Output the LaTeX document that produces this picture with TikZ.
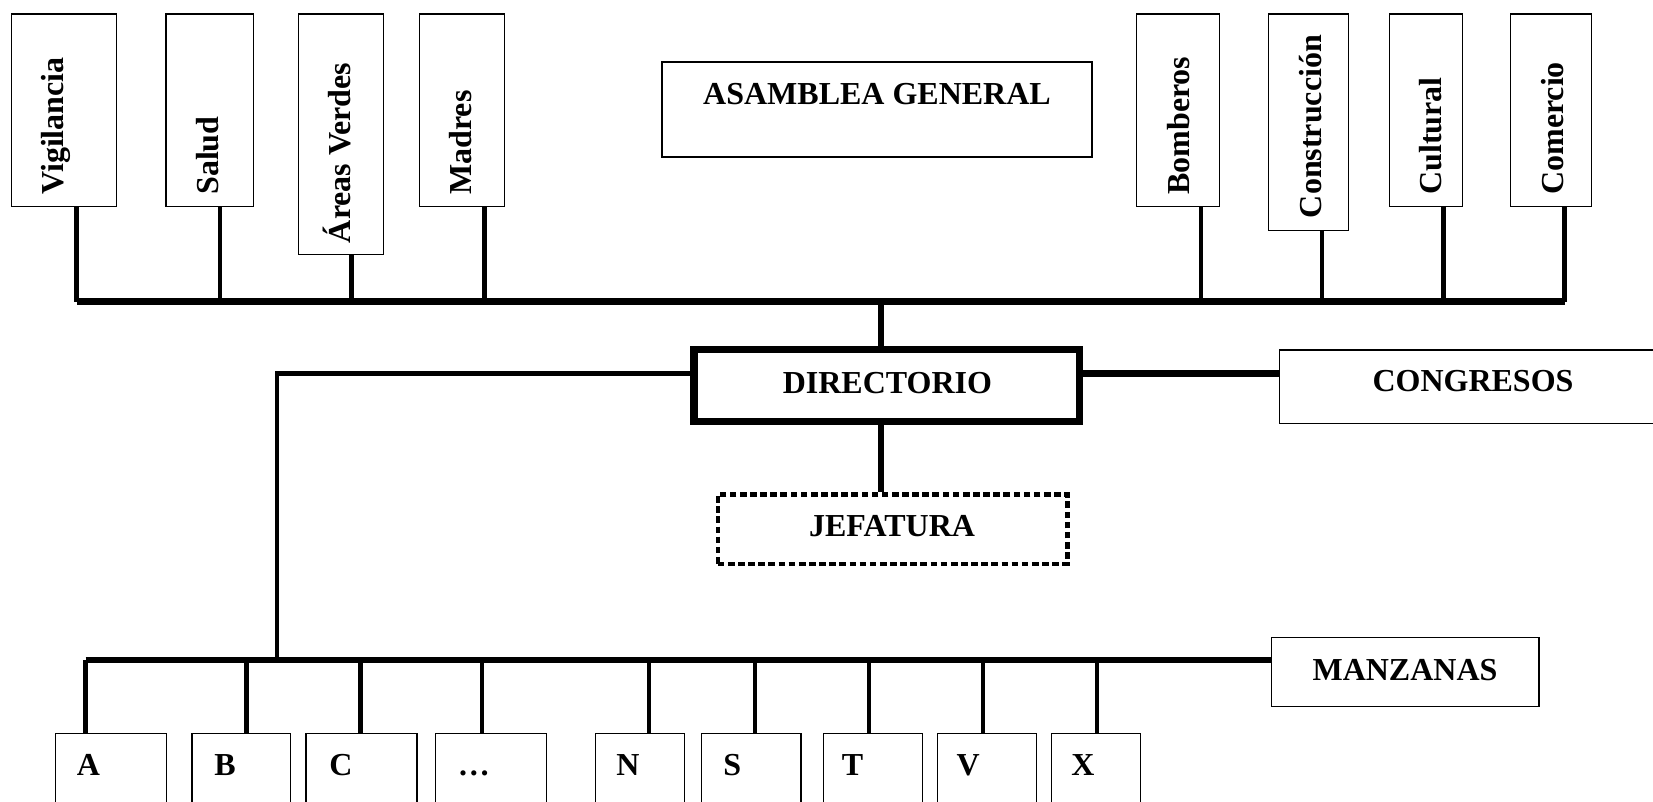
\documentclass[tikz,border=0pt]{standalone}
\usepackage{fontspec}
\setmainfont{Liberation Serif}
\usetikzlibrary{fit}
\begin{document}
\begin{tikzpicture}[x=0.75pt,y=-0.75pt,
  box/.style={draw, line width=0.8pt, inner sep=0pt, fill=none},
  lab/.style={inner sep=0pt, font=\fontsize{24}{28}\selectfont\bfseries},
  vlab/.style={lab, rotate=90, anchor=base west},
  hlab/.style={lab, anchor=base},
  llab/.style={lab, anchor=base west},
  stub/.style={line width=3.4pt},
  bus/.style={line width=5.4pt},
  lbus/.style={line width=4.3pt},
  thickstub/.style={line width=3.8pt}]
\clip (0,0) rectangle (1653,802);
\fill[white] (0,0) rectangle (1653,802);

% top committee boxes
\node[box, fit={(11.7,14) (116.7,206.7)}] (vig) {};
\node[box, fit={(166,14) (253.3,206.7)}] (sal) {};
\node[box, fit={(298.3,14) (383.3,254.3)}] (are) {};
\node[box, fit={(419.3,14) (504.3,206.7)}] (mad) {};
\node[box, fit={(1136.3,14) (1219.3,206.7)}] (bom) {};
\node[box, fit={(1268.5,14) (1348.4,230.7)}] (con) {};
\node[box, fit={(1389.5,14) (1462.3,206.7)}] (cul) {};
\node[box, fit={(1510.9,14) (1591.8,206.7)}] (com) {};

\node[vlab] (vigT) at (63.3,195) {Vigilancia};
\node[vlab] (salT) at (218.3,195) {Salud};
\node[vlab] (areT) at (350,243.3) {Áreas Verdes};
\node[vlab] (madT) at (471.7,195) {Madres};
\node[vlab] (bomT) at (1189.7,195) {Bomberos};
\node[vlab] (conT) at (1321.2,218.3) {Construcción};
\node[vlab] (culT) at (1441.2,195) {Cultural};
\node[vlab] (comT) at (1563.6,195) {Comercio};

% asamblea
\node[box, fit={(662,62) (1092,157)}] (asa) {};
\node[hlab] (asaT) at (877,104.4) {ASAMBLEA GENERAL};

% directorio, congresos, jefatura, manzanas
\node[draw, line width=5.6pt, inner sep=0pt, fit={(694.2,349.5) (1079.4,421.5)}] (dir) {};
\node[hlab] (dirT) at (887.4,393.3) {DIRECTORIO};
\node[box, fit={(1279.5,350) (1665,423.3)}] (cgr) {};
\node[hlab] (cgrT) at (1473,391.7) {CONGRESOS};
\node[draw, line width=3.4pt, dash pattern=on 5pt off 2.6pt, inner sep=0pt, fit={(717.8,494.5) (1067.4,563.8)}] (jef) {};
\node[hlab] (jefT) at (892,536.7) {JEFATURA};
\node[box, fit={(1271.7,637.3) (1539,706.7)}] (man) {};
\node[hlab] (manT) at (1405,680) {MANZANAS};

% bottom boxes
\node[box, fit={(55.9,733.3) (166.8,815)}] (mA) {};
\node[box, fit={(192,733.3) (290.7,815)}] (mB) {};
\node[box, fit={(306,733.3) (417,815)}] (mC) {};
\node[box, fit={(435.3,733.3) (546.3,815)}] (mD) {};
\node[box, fit={(595.3,733.3) (684.8,815)}] (mN) {};
\node[box, fit={(701.6,733.3) (801,815)}] (mS) {};
\node[box, fit={(823.3,733.3) (922.7,815)}] (mT) {};
\node[box, fit={(937.3,733.3) (1036.7,815)}] (mV) {};
\node[box, fit={(1051.3,733.3) (1140.8,815)}] (mX) {};
\node[llab] (mAT) at (76.5,775) {A};
\node[llab] (mBT) at (214,775) {B};
\node[llab] (mCT) at (329,775) {C};
\node[llab] (mDT) at (457.5,775) {…};
\node[llab] (mNT) at (616,775) {N};
\node[llab] (mST) at (723,775) {S};
\node[llab] (mTT) at (841.6,775) {T};
\node[llab] (mVT) at (956.4,775) {V};
\node[llab] (mXT) at (1071,775) {X};

% top bus
\coordinate (tbL) at (76.7,301.7);
\coordinate (tbR) at (1565.3,301.7);
\coordinate (b1) at (76.7,301.7);
\coordinate (b2) at (220,301.7);
\coordinate (b3) at (351.7,301.7);
\coordinate (b4) at (484.3,301.7);
\coordinate (b5) at (1200.9,301.7);
\coordinate (b6) at (1322.2,301.7);
\coordinate (b7) at (1443.6,301.7);
\coordinate (b8) at (1564.6,301.7);
\coordinate (bD) at (881,301.7);
\draw[stub] (b1 |- vig.south) -- (b1);
\draw[stub] (b2 |- sal.south) -- (b2);
\draw[stub] (b3 |- are.south) -- (b3);
\draw[stub] (b4 |- mad.south) -- (b4);
\draw[stub] (b5 |- bom.south) -- (b5);
\draw[stub] (b6 |- con.south) -- (b6);
\draw[stub] (b7 |- cul.south) -- (b7);
\draw[stub] (b8 |- com.south) -- (b8);
\draw[bus] (tbL) -- (tbR);
\draw[thickstub] (bD) -- (bD |- dir.north);
\draw[thickstub] (bD |- dir.south) -- (bD |- jef.north);

% directorio to congresos
\coordinate (dy) at (0,373.3);
\draw[line width=5.6pt] (dir.east |- dy) -- (cgr.west |- dy);

% directorio to manzanas bus
\coordinate (lk) at (277,373.3);
\coordinate (lb) at (277,660);
\draw[stub] (dir.west |- dy) -- (lk) -- (lb);
\coordinate (lbL) at (85.7,660);
\draw[lbus] (lbL) -- (man.west |- lbL);
\draw[stub] (lbL) -- (lbL |- mA.north);
\draw[stub] (246.4,660) coordinate (s2) -- (s2 |- mB.north);
\draw[stub] (360.4,660) coordinate (s3) -- (s3 |- mC.north);
\draw[stub] (482,660) coordinate (s4) -- (s4 |- mD.north);
\draw[stub] (648.8,660) coordinate (s5) -- (s5 |- mN.north);
\draw[stub] (755.2,660) coordinate (s6) -- (s6 |- mS.north);
\draw[stub] (869.2,660) coordinate (s7) -- (s7 |- mT.north);
\draw[stub] (983.2,660) coordinate (s8) -- (s8 |- mV.north);
\draw[stub] (1097.2,660) coordinate (s9) -- (s9 |- mX.north);
\end{tikzpicture}
\end{document}
